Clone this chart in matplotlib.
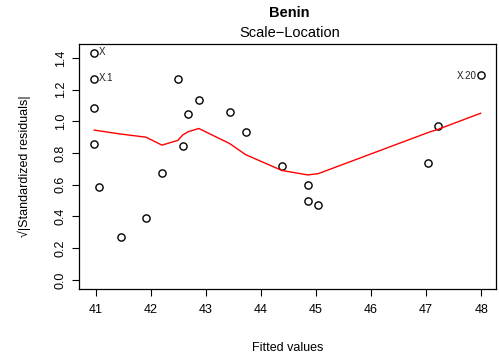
import matplotlib
matplotlib.use("Agg")
import matplotlib.pyplot as plt

plt.rcParams["font.family"] = ["Liberation Sans", "DejaVu Sans"]

# fitted values and sqrt(|standardized residuals|)
fitted = [40.97, 40.97, 40.97, 40.97, 41.06, 41.45, 41.91, 42.20, 42.49, 42.58,
          42.68, 42.87, 43.43, 43.72, 44.38, 44.85, 44.85, 45.04, 47.04, 47.22, 47.99]
sqrt_res = [1.43, 1.265, 1.083, 0.86, 0.588, 0.273, 0.389, 0.675, 1.265, 0.847,
            1.047, 1.137, 1.061, 0.931, 0.721, 0.597, 0.498, 0.473, 0.738, 0.971, 1.293]

# smoother through the points
smooth_x = [40.97, 41.06, 41.45, 41.91, 42.20, 42.49, 42.58, 42.68, 42.87,
            43.43, 43.72, 44.38, 44.85, 45.04, 47.04, 47.22, 47.99]
smooth_y = [0.945, 0.94, 0.92, 0.90, 0.85, 0.88, 0.915, 0.935, 0.955,
            0.86, 0.79, 0.69, 0.662, 0.67, 0.93, 0.95, 1.051]

# labelled outliers: (index, label, side)
outliers = [(0, "X", "right"), (1, "X.1", "right"), (20, "X.20", "left")]

xticks = [41, 42, 43, 44, 45, 46, 47, 48]
yticks = [0.0, 0.2, 0.4, 0.6, 0.8, 1.0, 1.2, 1.4]

fig = plt.figure(figsize=(4.99, 3.62), dpi=100)
ax = fig.add_axes([0.158, 0.202, 0.836, 0.676])

ax.plot(fitted, sqrt_res, "o", mfc="none", mec="black", mew=1.0, ms=5.2)
ax.plot(smooth_x, smooth_y, color="red", lw=1.0)

for i, lab, side in outliers:
    if side == "right":
        ax.annotate(lab, (fitted[i], sqrt_res[i]), xytext=(3, 1), textcoords="offset points",
                    ha="left", va="center", fontsize=7, color="#222222")
    else:
        ax.annotate(lab, (fitted[i], sqrt_res[i]), xytext=(-3, -1), textcoords="offset points",
                    ha="right", va="center", fontsize=7, color="#222222")

ax.set_xlim(40.69, 48.27)
ax.set_ylim(-0.057, 1.487)
ax.set_xticks(xticks)
ax.set_xticklabels([str(t) for t in xticks])
ax.set_yticks(yticks)
ax.set_yticklabels([f"{t:.1f}" for t in yticks], rotation=90, va="center")
ax.tick_params(direction="out", length=4.8, width=0.8, labelsize=9, pad=6)
ax.tick_params(axis="y", pad=4)

for sp in ax.spines.values():
    sp.set_linewidth(0.9)

ax.set_xlabel("Fitted values", fontsize=9, labelpad=19)
ax.set_ylabel("√|Standardized residuals|", fontsize=9, labelpad=17)

fig.text(0.58, 0.965, "Benin", ha="center", va="center", fontsize=10.5, fontweight="bold")
fig.text(0.58, 0.91, "Scale\u2212Location", ha="center", va="center", fontsize=10.5)

fig.savefig("out.png", dpi=100)
